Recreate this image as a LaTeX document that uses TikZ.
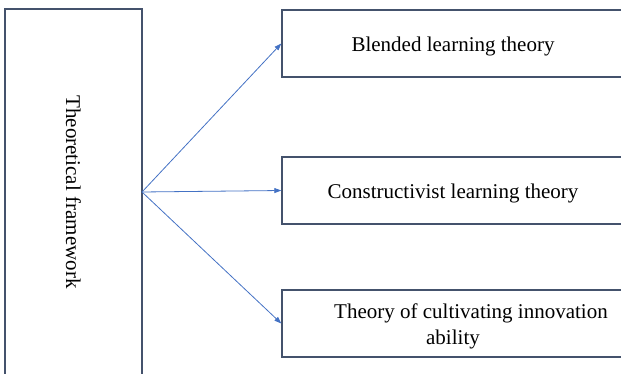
\documentclass[tikz,border=0pt]{standalone}
\usepackage{fontspec}
\setmainfont{Liberation Serif}
\usetikzlibrary{arrows.meta}
\definecolor{boxline}{HTML}{44526C}
\definecolor{arrowblue}{HTML}{4472C4}
% box caption, drawn a little below the box centre
\newcommand{\boxcaption}[1]{\raisebox{-3pt}[\height][\depth]{\begin{tabular}{@{}c@{}}#1\end{tabular}}}
\begin{document}
\begin{tikzpicture}[x=1pt,y=-1pt,
  box/.style={draw=boxline, line width=1.4pt, rectangle, inner sep=0pt,
    font=\fontsize{21}{26}\selectfont, text=black},
  link/.style={draw=arrowblue, line width=0.8pt,
    -{Triangle[length=7pt,width=5pt]}},
  lbl/.style={font=\fontsize{21}{26}\selectfont, text=black, inner sep=0pt}]
  \useasboundingbox (0,0) rectangle (621,374);
  \clip (0,0) rectangle (621,374);
  % framework column on the left
  \node[box, minimum width=137pt, minimum height=376pt] (frame) at (73.5,197) {};
  \node[lbl, rotate=-90] (frametext) at (73.5,192) {Theoretical framework};
  \coordinate (src) at (142,192);
  % theory boxes on the right
  \node[box, minimum width=342pt, minimum height=67pt] (blended) at (453,43.5)
    {\boxcaption{Blended learning theory}};
  \node[box, minimum width=342pt, minimum height=67pt] (constr) at (453,190.5)
    {\boxcaption{Constructivist learning theory}};
  \node[box, minimum width=342pt, minimum height=67pt] (innov) at (453,323.5)
    {\boxcaption{\hspace*{36pt}Theory of cultivating innovation\\ ability}};
  % connectors
  \draw[link] (src) -- (blended.west);
  \draw[link] (src) -- (constr.west);
  \draw[link] (src) -- (innov.west);
\end{tikzpicture}
\end{document}
